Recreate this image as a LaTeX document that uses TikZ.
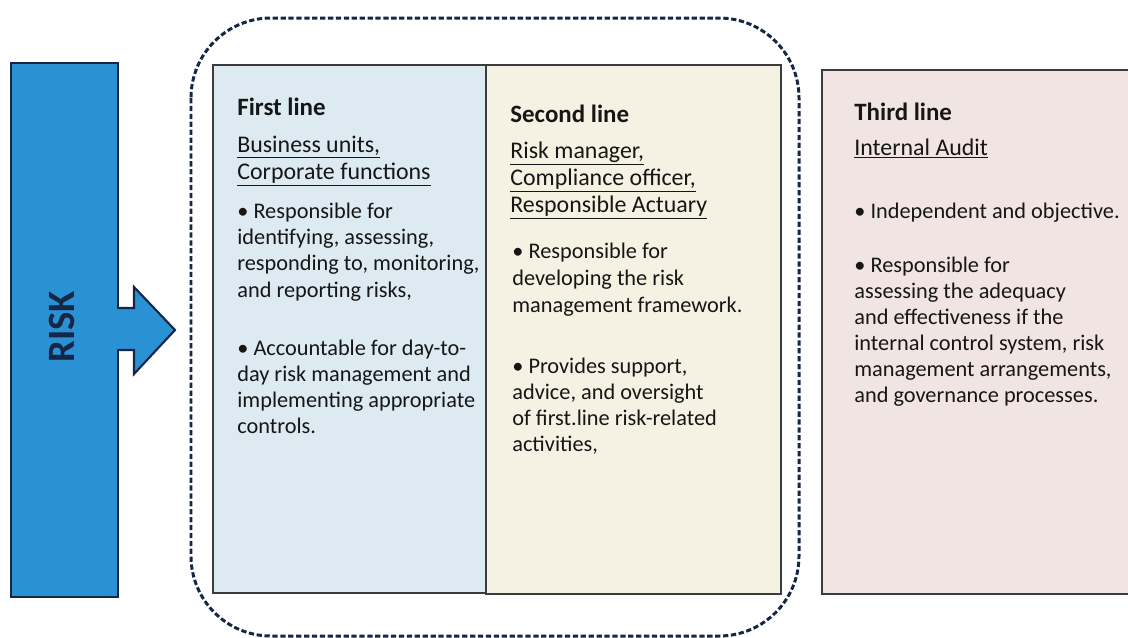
\documentclass[tikz,border=0pt]{standalone}
\usepackage{fontspec}
\setmainfont{Carlito}
\usepackage{xcolor}

\definecolor{riskblue}{RGB}{42,146,212}
\definecolor{navyline}{RGB}{22,38,70}
\definecolor{firstfill}{RGB}{221,234,242}
\definecolor{secondfill}{RGB}{246,242,227}
\definecolor{thirdfill}{RGB}{241,229,227}
\definecolor{boxline}{RGB}{60,60,60}
\definecolor{inktext}{RGB}{22,22,22}

\tikzset{
  linebox/.style={draw=boxline, line width=1.2pt},
  headtext/.style={anchor=base west, inner sep=0pt, font=\fontsize{14.2}{16}\selectfont\bfseries, text=inktext},
  subtext/.style={anchor=base west, inner sep=0pt, font=\fontsize{13.6}{16}\selectfont, text=inktext},
  bodytext/.style={anchor=base west, inner sep=0pt, font=\fontsize{12.7}{15}\selectfont, text=inktext}
}

\begin{document}
\begin{tikzpicture}[x=0.02cm, y=-0.02cm]
	\useasboundingbox (0,0) rectangle (1128,637);

	% risk bar and arrow
	\filldraw[fill=riskblue, draw=navyline, line width=1.2pt] (11,63) rectangle (118,597);
	\fill[riskblue] (115,309) rectangle (136,349);
	\filldraw[fill=riskblue, draw=navyline, line width=1.2pt] (118,308) -- (134,308) -- (134,287) -- (175,330) -- (134,374) -- (134,350) -- (118,350);
	\node[rotate=90, text=navyline, font=\fontsize{22}{22}\selectfont\bfseries] (risk) at (62,327) {RISK};

	% the three lines
	\filldraw[fill=firstfill, linebox] (213,65) rectangle (486,593);
	\filldraw[fill=secondfill, linebox] (486,65) rectangle (781,594);
	\fill[thirdfill] (822,70) rectangle (1128,594);
	\draw[linebox] (1128,70) -- (822,70) -- (822,594) -- (1128,594);

	% dashed group round first and second line
	\draw[navyline, line width=1.7pt, dash pattern=on 3pt off 1.5pt, rounded corners=1.6cm] (191,18) rectangle (799,636);

	% first line
	\node[headtext] (first) at (237,115) {First line};
	\node[subtext] (firstsub1) at (237,152) {\underline{Business units,}};
	\node[subtext] (firstsub2) at (237,179) {\underline{Corporate functions}};
	\foreach \t [count=\i] in {{\textbullet{} Responsible for}, {identifying, assessing,}, {responding to, monitoring,}, {and reporting risks,}}
		\node[bodytext] (firsta\i) at (237,218+26.4*\i-26.4) {\t};
	\foreach \t [count=\i] in {{\textbullet{} Accountable for day-to-}, {day risk management and}, {implementing appropriate}, {controls.}}
		\node[bodytext] (firstb\i) at (237,355+26*\i-26) {\t};

	% second line
	\node[headtext] (second) at (510,122) {Second line};
	\node[subtext] (secondsub1) at (510,158) {\underline{Risk manager,}};
	\node[subtext] (secondsub2) at (510,185) {\underline{Compliance officer,}};
	\node[subtext] (secondsub3) at (510,212) {\underline{Responsible Actuary}};
	\foreach \t [count=\i] in {{\textbullet{} Responsible for}, {developing the risk}, {management framework.}}
		\node[bodytext] (seconda\i) at (512,258+27*\i-27) {\t};
	\foreach \t [count=\i] in {{\textbullet{} Provides support,}, {advice, and oversight}, {of first.line risk-related}, {activities,}}
		\node[bodytext] (secondb\i) at (512,373+26.3*\i-26.3) {\t};

	% third line
	\node[headtext] (third) at (854,120) {Third line};
	\node[subtext] (thirdsub1) at (854,155) {\underline{Internal Audit}};
	\node[bodytext] (thirda1) at (854,218) {\textbullet{} Independent and objective.};
	\foreach \t [count=\i] in {{\textbullet{} Responsible for}, {assessing the adequacy}, {and effectiveness if the}, {internal control system, risk}, {management arrangements,}, {and governance processes.}}
		\node[bodytext] (thirdb\i) at (854,272+26*\i-26) {\t};
\end{tikzpicture}
\end{document}
